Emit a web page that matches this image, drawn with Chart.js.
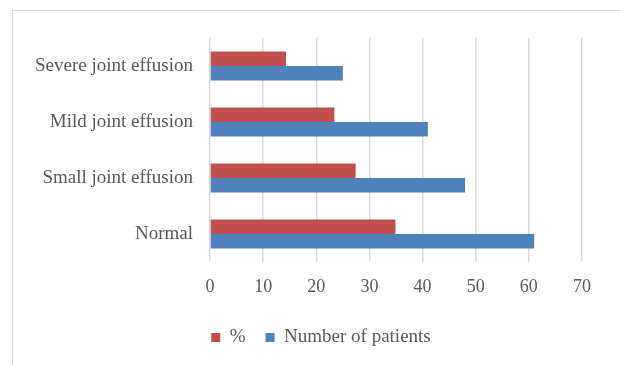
<!DOCTYPE html>
<html>
<head>
<meta charset="utf-8">
<script src="https://cdn.jsdelivr.net/npm/chart.js@4/dist/chart.umd.min.js"></script>
<style>
  html, body { margin: 0; padding: 0; background: #fff; }
  #wrap { position: relative; width: 620px; height: 365px; overflow: hidden; }
  #frame { position: absolute; left: 12px; top: 10px; width: 700px; height: 500px;
           border-left: 1.5px solid #d9d9d9; border-top: 1.5px solid #d9d9d9; box-sizing: border-box; }
  canvas { position: absolute; left: 0; top: 0; }
</style>
</head>
<body>
<div id="wrap">
  <div id="frame"></div>
  <canvas id="c" width="620" height="365"></canvas>
</div>
<script>
const categories = ["Severe joint effusion", "Mild joint effusion", "Small joint effusion", "Normal"];
const percentValues = [14.3, 23.4, 27.4, 34.9];
const patientValues = [25, 41, 48, 61];
const xTicks = [0, 10, 20, 30, 40, 50, 60, 70];

const FONT = "'Liberation Serif', 'DejaVu Serif', serif";
const TXT = "#595959";

const shiftLegend = {
  id: 'shiftLegend',
  afterLayout(chart) {
    if (chart.legend) { chart.legend.left += 30; chart.legend.right += 30; }
  }
};

new Chart(document.getElementById('c'), {
  type: 'bar',
  data: {
    labels: categories,
    datasets: [
      { label: '%', data: percentValues, backgroundColor: '#C0504D', borderColor: '#C0504D', borderWidth: 0,
        categoryPercentage: 0.52, barPercentage: 1.0 },
      { label: 'Number of patients', data: patientValues, backgroundColor: '#4F81BD', borderColor: '#4F81BD', borderWidth: 0,
        categoryPercentage: 0.52, barPercentage: 1.0 }
    ]
  },
  plugins: [shiftLegend],
  options: {
    indexAxis: 'y',
    responsive: false,
    animation: false,
    devicePixelRatio: 1,
    layout: { padding: { left: 0, top: 38, right: 38, bottom: 8 } },
    plugins: {
      legend: {
        position: 'bottom',
        labels: {
          boxWidth: 9, boxHeight: 9, padding: 20,
          color: TXT, font: { family: FONT, size: 19 }
        }
      },
      tooltip: { enabled: false }
    },
    scales: {
      x: {
        min: 0, max: 70,
        afterBuildTicks: (s) => { s.ticks = xTicks.map(v => ({ value: v })); },
        grid: { color: '#d9d9d9', lineWidth: 1.5, drawTicks: false },
        border: { display: false },
        ticks: { color: TXT, font: { family: FONT, size: 18 }, padding: 14 },
        afterFit: (s) => { s.height = 46; }
      },
      y: {
        grid: { display: false, drawTicks: false },
        border: { display: false },
        ticks: { color: TXT, font: { family: FONT, size: 19 }, padding: 17 },
        afterFit: (s) => { s.width = 210; }
      }
    }
  }
});
</script>
</body>
</html>
